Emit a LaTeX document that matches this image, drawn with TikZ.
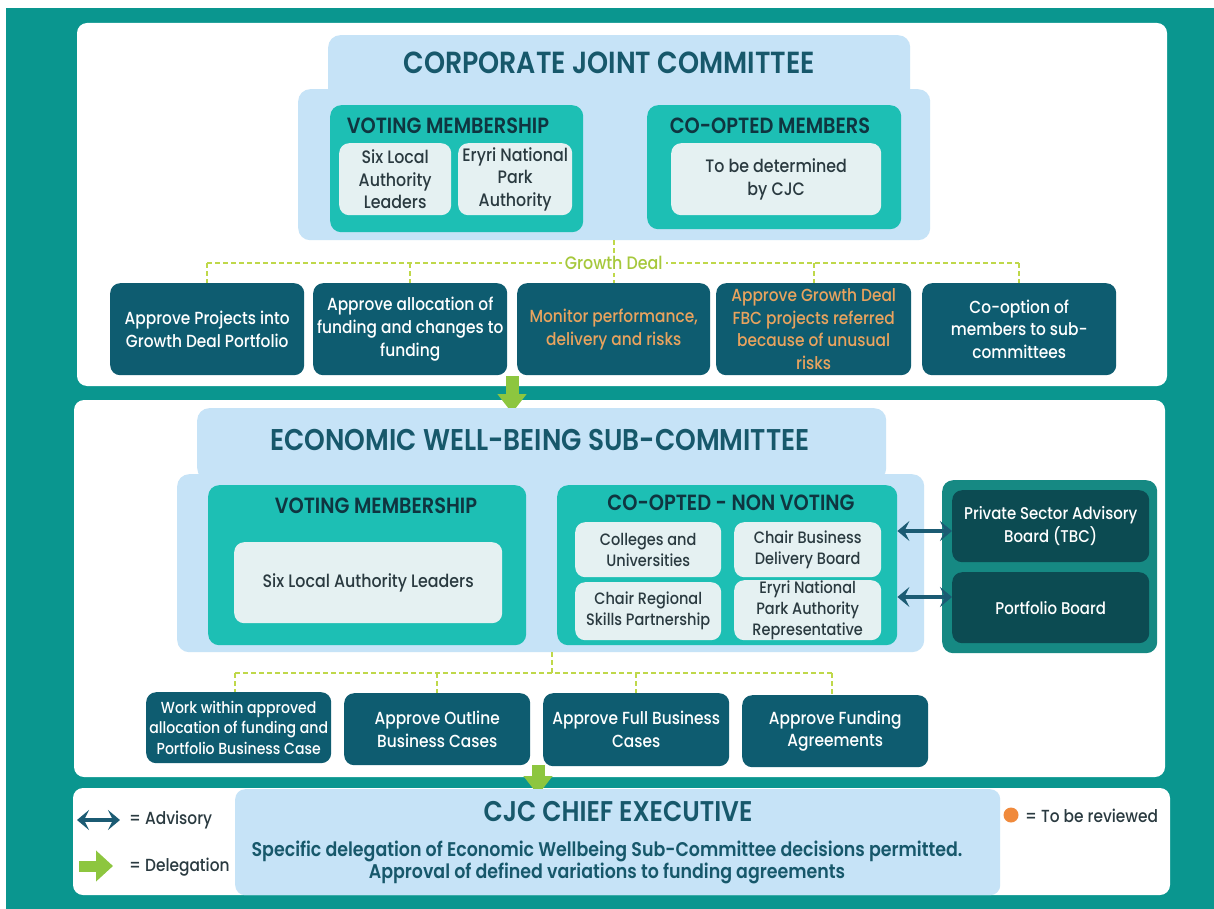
\documentclass[tikz,border=0pt]{standalone}
\usepackage{fontspec}
\setmainfont{Poppins}[FakeStretch=0.88, UprightFont=* Medium, BoldFont=* SemiBold]
\usetikzlibrary{arrows.meta}
\definecolor{bgteal}{HTML}{0A968F}
\definecolor{lblue}{HTML}{C6E3F7}
\definecolor{mteal}{HTML}{1DBFB4}
\definecolor{pale}{HTML}{E5F1F2}
\definecolor{dark}{HTML}{0E5C70}
\definecolor{cont}{HTML}{168983}
\definecolor{cdark}{HTML}{0C4B52}
\definecolor{ttl}{HTML}{17586B}
\definecolor{gtl}{HTML}{0F3540}
\definecolor{ptx}{HTML}{2A3A40}
\definecolor{lime}{HTML}{8DC63F}
\definecolor{dline}{HTML}{BFD84A}
\definecolor{gdtxt}{HTML}{A6C83C}
\definecolor{org}{HTML}{E9A35E}
\definecolor{adv}{HTML}{1B5B73}
\definecolor{dot}{HTML}{F08A3C}
\tikzset{
  panel/.style={fill=white, rounded corners=10pt},
  tab/.style={fill=lblue, rounded corners=12pt, anchor=north west, inner sep=0pt},
  grp/.style={fill=mteal, rounded corners=11pt, anchor=north west, inner sep=0pt},
  palebox/.style={fill=pale, rounded corners=10pt, anchor=north west, inner sep=0pt, align=center, text=ptx, font=\fontsize{18}{22.5}\selectfont},
  smallpale/.style={palebox, font=\fontsize{16.5}{21}\selectfont},
  act/.style={fill=dark, rounded corners=10pt, anchor=north west, inner sep=0pt, align=center, text=white, font=\fontsize{17.5}{22.8}\selectfont},
  orgtxt/.style={text=org},
  cbox/.style={fill=cdark, rounded corners=10pt, anchor=north west, inner sep=0pt, align=center, text=white, font=\fontsize{17}{23}\selectfont},
  bigtitle/.style={text=ttl, inner sep=0pt},
  gtitle/.style={text=gtl, inner sep=0pt, font=\bfseries\fontsize{22}{24}\selectfont},
  dashline/.style={draw=dline, dash pattern=on 5pt off 3pt, line width=1.6pt},
  deleg/.style={draw=lime, line width=13pt, -{Triangle[width=28pt,length=19pt]}},
  advarrow/.style={draw=adv, line width=4.5pt, {Stealth[length=12pt,width=20pt,inset=5pt]}-{Stealth[length=12pt,width=20pt,inset=5pt]}},
  legtxt/.style={text=ptx, inner sep=0pt, anchor=west, font=\fontsize{17.5}{20}\selectfont}
}
\begin{document}
\begin{tikzpicture}[x=1pt,y=-1pt]
\useasboundingbox (0,0) rectangle (1214,909);
\fill[white] (0,0) rectangle (1214,909);
\fill[bgteal] (6,8) rectangle (1214,909);
% panels
\fill[panel] (77,23) rectangle (1167,386);
\fill[panel] (74,400) rectangle (1165,777);
\fill[panel] (73,788) rectangle (1170,895);

% ===== CJC =====
\node[tab, minimum width=582pt, minimum height=66pt] (cjctab) at (328,35) {};
\node[tab, minimum width=632pt, minimum height=151pt] (cjcbody) at (298,89) {};
\node[bigtitle, font=\bfseries\fontsize{30.5}{32}\selectfont] (cjctitle) at (609,63) {CORPORATE JOINT COMMITTEE};
\node[grp, minimum width=253pt, minimum height=127pt] (cvote) at (330,105) {};
\node[gtitle] (cvotet) at (448,126) {VOTING MEMBERSHIP};
\node[palebox, minimum width=112pt, minimum height=72pt] (csix) at (339,143) {Six Local\\Authority\\Leaders};
\node[palebox, minimum width=114pt, minimum height=72pt] (cery) at (458,143) {Eryri National\\Park\\Authority};
\node[grp, minimum width=254pt, minimum height=124pt] (ccoop) at (647,105) {};
\node[gtitle] (ccoopt) at (770,126) {CO-OPTED MEMBERS};
\node[palebox, minimum width=210pt, minimum height=72pt] (ctbd) at (671,143) {To be determined\\by CJC};

% action row 1
\node[act, minimum width=194pt, minimum height=92pt] (r1) at (110,283) {Approve Projects into\\Growth Deal Portfolio};
\node[act, minimum width=194pt, minimum height=92pt] (r2) at (313,283) {Approve allocation of\\funding and changes to\\funding};
\node[act, minimum width=193pt, minimum height=92pt, orgtxt] (r3) at (517,283) {Monitor performance,\\delivery and risks};
\node[act, minimum width=195pt, minimum height=92pt, orgtxt] (r4) at (716,283) {Approve Growth Deal\\FBC projects referred\\because of unusual\\risks};
\node[act, minimum width=194pt, minimum height=92pt] (r5) at (922,283) {Co-option of\\members to sub-\\committees};

% growth deal connectors
\coordinate (gl) at (r1.north |- 0,263);
\coordinate (gr) at (r5.north |- 0,263);
\draw[dashline] (gl) -- (gr);
\draw[dashline] (gl) -- (r1.north);
\draw[dashline] (r2.north |- gl) -- (r2.north);
\draw[dashline] (r4.north |- gl) -- (r4.north);
\draw[dashline] (gr) -- (r5.north);
\draw[dashline] (cjcbody.south -| r3.north) -- (r3.north);
\node[fill=white, text=gdtxt, inner sep=3pt, font=\fontsize{18}{20}\selectfont] (gd) at (r3.north |- gl) {Growth Deal};

% delegation arrow 1
\coordinate (d1a) at (512,376);
\coordinate (d1b) at (512,413);
\draw[deleg] (d1a) -- (d1b);

% ===== EWB =====
\node[tab, minimum width=689pt, minimum height=72pt] (etab) at (197,408) {};
\node[tab, minimum width=747pt, minimum height=178pt] (ebody) at (177,474) {};
\node[bigtitle, font=\bfseries\fontsize{30}{32}\selectfont] (etitle) at (540,440) {ECONOMIC WELL-BEING SUB-COMMITTEE};
\node[grp, minimum width=318pt, minimum height=160pt] (evote) at (208,485) {};
\node[gtitle] (evotet) at (376,506) {VOTING MEMBERSHIP};
\node[palebox, minimum width=268pt, minimum height=81pt] (esix) at (234,542) {Six Local Authority Leaders};
\node[grp, minimum width=340pt, minimum height=160pt] (ecoop) at (557,485) {};
\node[gtitle] (ecoopt) at (731,503) {CO-OPTED - NON VOTING};
\node[smallpale, minimum width=146pt, minimum height=55pt] (ecol) at (575,522) {Colleges and\\Universities};
\node[smallpale, minimum width=147pt, minimum height=55pt] (ecbd) at (734,522) {Chair Business\\Delivery Board};
\node[smallpale, minimum width=146pt, minimum height=58pt] (ecrs) at (575,582) {Chair Regional\\Skills Partnership};
\node[smallpale, minimum width=147pt, minimum height=60pt] (eery) at (734,580) {Eryri National\\Park Authority\\Representative};
\node[fill=cont, rounded corners=11pt, anchor=north west, minimum width=215pt, minimum height=173pt, inner sep=0pt] (econt) at (942,480) {};
\node[cbox, minimum width=197pt, minimum height=72pt] (psab) at (952,490) {Private Sector Advisory\\Board (TBC)};
\node[cbox, minimum width=197pt, minimum height=71pt] (pfb) at (952,572) {Portfolio Board};
\draw[advarrow] (ecoop.east |- 0,531) -- (psab.west |- 0,531);
\draw[advarrow] (ecoop.east |- 0,597) -- (pfb.west |- 0,597);

% action row 2
\node[act, minimum width=185pt, minimum height=71pt, font=\fontsize{16}{20.5}\selectfont] (w1) at (146,692) {Work within approved\\allocation of funding and\\Portfolio Business Case};
\node[act, minimum width=186pt, minimum height=72pt] (w2) at (344,693) {Approve Outline\\Business Cases};
\node[act, minimum width=186pt, minimum height=73pt] (w3) at (543,693) {Approve Full Business\\Cases};
\node[act, minimum width=186pt, minimum height=72pt] (w4) at (742,695) {Approve Funding\\Agreements};
\coordinate (el) at (235,673);
\coordinate (er) at (832,673);
\draw[dashline] (el) -- (er);
\draw[dashline] (ebody.south -| 552,0) -- (552,673);
\draw[dashline] (el) -- (w1.north -| el);
\draw[dashline] (w2.north |- el) -- (w2.north);
\draw[dashline] (w3.north |- el) -- (w3.north);
\draw[dashline] (er) -- (w4.north -| er);

% delegation arrow 2
\coordinate (d2a) at (538,765);
\coordinate (d2b) at (538,795);
\draw[deleg] (d2a) -- (d2b);

% ===== CJC Chief Executive =====
\node[fill=lblue, rounded corners=10pt, anchor=north west, minimum width=765pt, minimum height=106pt, inner sep=0pt] (ceo) at (235,789) {};
\node[bigtitle, font=\bfseries\fontsize{28.5}{30}\selectfont] (ceot) at (618,812) {CJC CHIEF EXECUTIVE};
\node[text=ttl, inner sep=0pt, align=center, font=\bfseries\fontsize{19.8}{22}\selectfont] (ceob) at (607,862) {Specific delegation of Economic Wellbeing Sub-Committee decisions permitted.\\Approval of defined variations to funding agreements};

% legend
\coordinate (la) at (77,820);
\coordinate (lb) at (120,820);
\draw[advarrow] (la) -- (lb);
\node[legtxt] (lat) at (129,820) {= Advisory};
\coordinate (lc) at (79,866);
\coordinate (ld) at (113,866);
\draw[draw=lime, line width=11pt, -{Triangle[width=30pt,length=17pt]}] (lc) -- (ld);
\node[legtxt] (ldt) at (129,867) {= Delegation};
\node[circle, fill=dot, minimum size=15pt, inner sep=0pt] (odot) at (1011,815) {};
\node[legtxt] (odt) at (1025,816) {= To be reviewed};
\end{tikzpicture}
\end{document}
